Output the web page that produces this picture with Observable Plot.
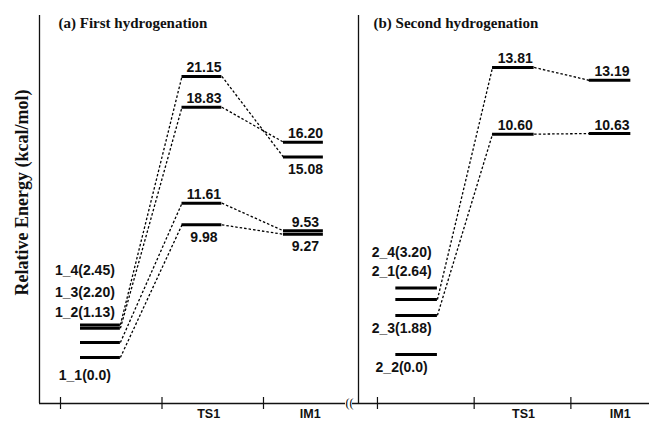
<!DOCTYPE html>
<html><head><meta charset="utf-8">
<script src="https://cdn.jsdelivr.net/npm/d3@7"></script>
<script src="https://cdn.jsdelivr.net/npm/@observablehq/plot@0.6"></script>
<style>
body{margin:0;background:#fff;}
#wrap{display:flex;width:649px;height:421px;overflow:hidden;}
#wrap svg{overflow:visible;}
</style></head><body><div id="wrap"></div>
<script>
// ---- data ----
const stageLabels = ["", "TS1", "IM1"];
const titleA = "(a) First hydrogenation";
const titleB = "(b) Second hydrogenation";
const yLabel = "Relative Energy (kcal/mol)";

const speciesA = ["1_1", "1_2", "1_3", "1_4"];
const reactA = [0.0, 1.13, 2.20, 2.45];
const tsA = [9.98, 11.61, 18.83, 21.15];
const imA = [9.27, 9.53, 16.20, 15.08];

const speciesB = ["2_1", "2_2", "2_3", "2_4"];
const reactB = [2.64, 0.0, 1.88, 3.20];
const tsB = [13.81, null, 10.60, null];
const imB = [13.19, null, 10.63, null];

// ---- drawing ----
const fmt = v => v === 0 ? "0.0" : v.toFixed(2);
const sans = "'Liberation Sans', Arial, Helvetica, sans-serif";
const serif = "'Liberation Serif', 'Times New Roman', serif";
const ink = "#111";

function panel(cfg) {
  const H = 421, mT = 15, mB = 18;
  const pxX = (cfg.width - cfg.marginLeft) / (cfg.xDomain[1] - cfg.xDomain[0]);
  const pxY = (H - mT - mB) / (cfg.yDomain[1] - cfg.yDomain[0]);
  const levels = [], links = [];
  cfg.species.forEach((sp, i) => {
    levels.push({sp, i, stage: 0, v: cfg.react[i]});
    if (cfg.ts[i] != null) {
      levels.push({sp, i, stage: 1, v: cfg.ts[i]});
      levels.push({sp, i, stage: 2, v: cfg.im[i]});
      links.push({x1: cfg.barTo, y1: cfg.react[i], x2: 1 + cfg.barFrom, y2: cfg.ts[i]});
      links.push({x1: 1 + cfg.barTo, y1: cfg.ts[i], x2: 2 + cfg.barFrom, y2: cfg.im[i]});
    }
  });
  const mid = (cfg.barFrom + cfg.barTo) / 2;
  const valueLevels = levels.filter(d => d.stage > 0);
  const isBelow = d => cfg.below.includes(d.sp + ":" + d.stage);
  const y0 = cfg.yDomain[0];
  const marks = [
    Plot.ruleY([y0], {x1: cfg.xDomain[0] + cfg.axisStart / pxX, x2: cfg.xDomain[0] + cfg.axisEnd / pxX, stroke: ink, strokeWidth: 1.3}),
    Plot.ruleX([cfg.xDomain[0]], {y1: y0, y2: cfg.yDomain[1], stroke: ink, strokeWidth: 1.3}),
    Plot.ruleX([0, 1, 2], {x: d => d, y1: y0 - 6 / pxY, y2: y0 + 6 / pxY, stroke: ink, strokeWidth: 1.2}),
    Plot.text([1, 2], {x: d => d + cfg.tickLabelOffset, y: y0, text: d => stageLabels[d], dy: 10, lineAnchor: "middle", fontSize: 12.5, fontWeight: "bold", fill: ink}),
    Plot.link(links, {x1: "x1", y1: "y1", x2: "x2", y2: "y2", stroke: "#000", strokeWidth: 1.3, strokeDasharray: "2.5,2"}),
    Plot.ruleY(levels, {y: "v", x1: d => d.stage + cfg.barFrom, x2: d => d.stage + cfg.barTo, stroke: "#000", strokeWidth: 3}),
    Plot.text(valueLevels.filter(d => !isBelow(d)), {x: d => d.stage + mid + 0.02, y: "v", text: d => d.v.toFixed(2), dy: -4, lineAnchor: "bottom", fontSize: 14, fontWeight: "bold", fill: ink}),
    Plot.text(valueLevels.filter(d => isBelow(d)), {x: d => d.stage + mid + 0.02, y: "v", text: d => d.v.toFixed(2), dy: 7, lineAnchor: "top", fontSize: 14, fontWeight: "bold", fill: ink}),
    Plot.text(levels.filter(d => d.stage === 0), {x: cfg.reactLabelX, y: d => d.v - cfg.reactDy[d.sp] / pxY, text: d => `${d.sp}(${fmt(d.v)})`, lineAnchor: "middle", fontSize: 14, fontWeight: "bold", fill: ink}),
    Plot.text([cfg.title], {frameAnchor: "top-left", dx: cfg.titleDx, dy: 2, lineAnchor: "top", textAnchor: "start", fontFamily: serif, fontSize: 15, fontWeight: "bold", fill: ink})
  ];
  if (cfg.yLabel) {
    marks.push(Plot.text([cfg.yLabel], {frameAnchor: "left", dx: -17, dy: -17, rotate: -90, textAnchor: "middle", lineAnchor: "middle", fontFamily: serif, fontSize: 18, fontWeight: "bold", fill: ink}));
  }
  if (cfg.breakMark) {
    marks.push(Plot.text(["(("], {frameAnchor: "bottom-right", dx: -3, dy: 0, lineAnchor: "middle", textAnchor: "middle", fontFamily: serif, fontSize: 12, fill: "#000"}));
  }
  return Plot.plot({
    width: cfg.width, height: H,
    marginLeft: cfg.marginLeft, marginRight: 0, marginTop: mT, marginBottom: mB,
    x: {domain: cfg.xDomain, axis: null},
    y: {domain: cfg.yDomain, axis: null},
    style: {fontFamily: sans, background: "transparent", overflow: "visible"},
    marks
  });
}

const wrap = document.getElementById("wrap");
wrap.appendChild(panel({
  width: 352, marginLeft: 39,
  xDomain: [-0.207, 2.877], yDomain: [-3.46, 25.73],
  species: speciesA, react: reactA, ts: tsA, im: imA,
  barFrom: 0.197, barTo: 0.59, tickLabelOffset: 0.46,
  below: ["1_1:1", "1_1:2", "1_4:2"],
  reactDy: {"1_1": 18, "1_2": -30, "1_3": -36, "1_4": -54},
  reactLabelX: 0.24,
  title: titleA, titleDx: 19, yLabel: yLabel,
  axisStart: 0, axisEnd: 306, breakMark: true
}));
wrap.appendChild(panel({
  width: 297, marginLeft: 6,
  xDomain: [-0.196, 2.813], yDomain: [-2.36, 16.31],
  species: speciesB, react: reactB, ts: tsB, im: imB,
  barFrom: 0.19, barTo: 0.62, tickLabelOffset: 0.51,
  below: [],
  reactDy: {"2_1": -28, "2_2": 13, "2_3": 13, "2_4": -35},
  reactLabelX: 0.25,
  title: titleB, titleDx: 15, yLabel: null,
  axisStart: -6, axisEnd: 291, breakMark: false
}));
</script></body></html>
